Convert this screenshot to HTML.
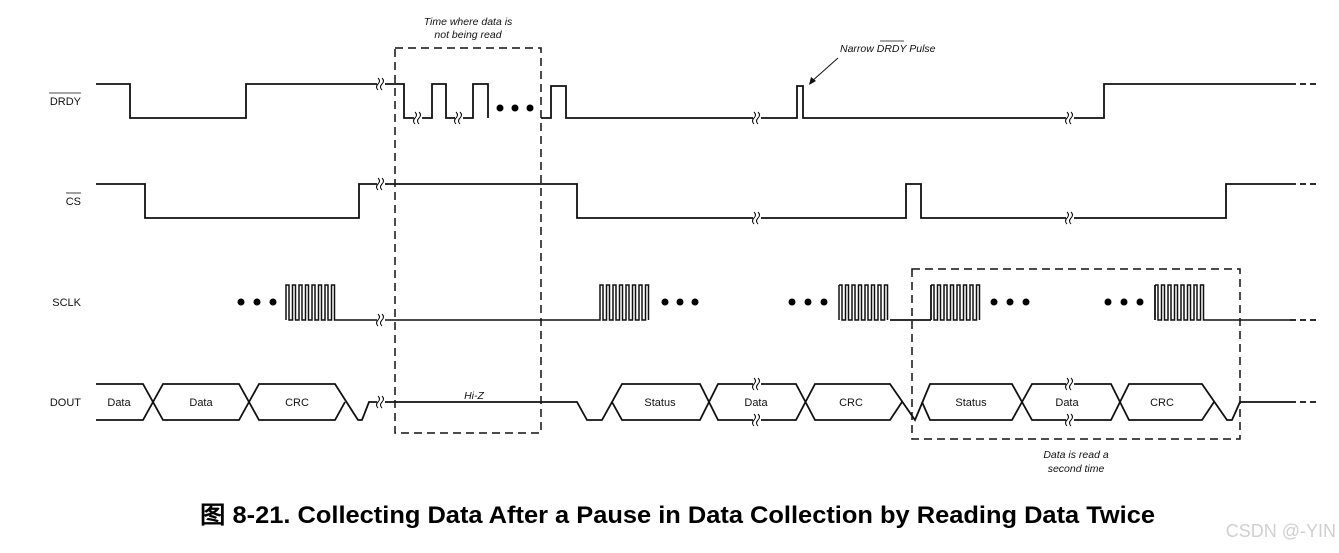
<!DOCTYPE html>
<html><head><meta charset="utf-8"><style>
html,body{margin:0;padding:0;background:#fff;}
svg{display:block;}
text{font-family:"Liberation Sans",sans-serif;}
</style></head><body>
<svg width="1339" height="553" viewBox="0 0 1339 553" xmlns="http://www.w3.org/2000/svg">
<defs>
<g id="brk"><rect x="-4" y="-5" width="8" height="10" fill="#fff"/><path d="M-3 -6 q3 3 0 6 q-3 3 0 6 M1 -6 q3 3 0 6 q-3 3 0 6" fill="none" stroke="#000" stroke-width="1"/></g>
</defs>
<g fill="none" stroke="#111" stroke-width="1.8">
<path d="M96 84 H130 V118 H246 V84 H404 V118 H432 V84 H446 V118 H473 V84 H488 V118"/>
<path d="M541 118 H551 V86 H566 V118 H797 V86 H803 V118 H1104 V84 H1290"/>
<path d="M1290 84 H1317" stroke-dasharray="6,4"/>
<path d="M96 184 H145 V218 H359 V184 H577 V218 H906 V184 H921 V218 H1226 V184 H1290"/>
<path d="M1290 184 H1317" stroke-dasharray="6,4"/>
<path d="M286 320 v-35h3v35h3.5v-35h3v35h3.5v-35h3v35h3.5v-35h3v35h3.5v-35h3v35h3.5v-35h3v35h3.5v-35h3v35h3.5v-35h3v35 H600 v-35h3v35h3.5v-35h3v35h3.5v-35h3v35h3.5v-35h3v35h3.5v-35h3v35h3.5v-35h3v35h3.5v-35h3v35h3.5v-35h3v35" stroke-width="1.5"/>
<path d="M839 285 v35 M839 285 h3v35h3.5v-35h3v35h3.5v-35h3v35h3.5v-35h3v35h3.5v-35h3v35h3.5v-35h3v35h3.5v-35h3v35h3.5v-35h3v35" stroke-width="1.5"/>
<path d="M931 285 h3v35h3.5v-35h3v35h3.5v-35h3v35h3.5v-35h3v35h3.5v-35h3v35h3.5v-35h3v35h3.5v-35h3v35h3.5v-35h3v35" stroke-width="1.5"/>
<path d="M1155 285 h3v35h3.5v-35h3v35h3.5v-35h3v35h3.5v-35h3v35h3.5v-35h3v35h3.5v-35h3v35h3.5v-35h3v35h3.5v-35h3v35 H1290" stroke-width="1.5"/>
<path d="M890 320 H931 M931 320 V285 M1155 320 V285"/>
<path d="M1290 320 H1317" stroke-dasharray="6,4"/>
<path d="M96 384 H143 L163 420 H239 L259 384 H335 L358 420 H362 L369 402 H577 L587 420 H602 L622 384 H700 L718 420 H796 L815 384 H890 L915 420 L930 384 H1012 L1032 420 H1111 L1129 384 H1202 L1227 420 H1232 L1240 402 H1290"/>
<path d="M96 420 H143 L163 384 H239 L259 420 H335 L345 402"/>
<path d="M612 402 L622 420 H700 L718 384 H796 L815 420 H890 L902 402"/>
<path d="M922 402 L930 420 H1012 L1032 384 H1111 L1129 420 H1202 L1214 402"/>
<path d="M1290 402 H1317" stroke-dasharray="6,4"/>
<path d="M395 48 H541 V433 H395 Z" stroke-width="1.5" stroke-dasharray="8,5"/>
<path d="M912 269 H1240 V439 H912 Z" stroke-width="1.5" stroke-dasharray="8,5"/>
<path d="M838 58 L811 82" stroke-width="1"/>
</g>
<path d="M809 85 L811 77 L816 81 Z" fill="#111"/>
<g fill="#000">
<circle cx="500" cy="108" r="3.5"/><circle cx="515" cy="108" r="3.5"/><circle cx="530" cy="108" r="3.5"/>
<circle cx="241" cy="302" r="3.5"/><circle cx="257" cy="302" r="3.5"/><circle cx="273" cy="302" r="3.5"/>
<circle cx="665" cy="302" r="3.5"/><circle cx="680" cy="302" r="3.5"/><circle cx="695" cy="302" r="3.5"/>
<circle cx="792" cy="302" r="3.5"/><circle cx="808" cy="302" r="3.5"/><circle cx="824" cy="302" r="3.5"/>
<circle cx="994" cy="302" r="3.5"/><circle cx="1010" cy="302" r="3.5"/><circle cx="1026" cy="302" r="3.5"/>
<circle cx="1108" cy="302" r="3.5"/><circle cx="1124" cy="302" r="3.5"/><circle cx="1140" cy="302" r="3.5"/>
</g>
<use href="#brk" x="381" y="84"/><use href="#brk" x="381" y="184"/><use href="#brk" x="381" y="320"/><use href="#brk" x="381" y="402"/>
<use href="#brk" x="418" y="118"/><use href="#brk" x="459" y="118"/>
<use href="#brk" x="757" y="118"/><use href="#brk" x="757" y="218"/><use href="#brk" x="757" y="384"/><use href="#brk" x="757" y="420"/>
<use href="#brk" x="1070" y="118"/><use href="#brk" x="1070" y="218"/><use href="#brk" x="1070" y="384"/><use href="#brk" x="1070" y="420"/>
<g font-size="11" fill="#111">
<text x="81" y="105" text-anchor="end">DRDY</text>
<line x1="49" y1="93" x2="81" y2="93" stroke="#111" stroke-width="0.8"/>
<text x="81" y="205" text-anchor="end">CS</text>
<line x1="66" y1="193" x2="81" y2="193" stroke="#111" stroke-width="0.8"/>
<text x="81" y="306" text-anchor="end">SCLK</text>
<text x="81" y="406" text-anchor="end">DOUT</text>
<g text-anchor="middle">
<text x="119" y="406">Data</text><text x="201" y="406">Data</text><text x="297" y="406">CRC</text>
<text x="660" y="406">Status</text><text x="756" y="406">Data</text><text x="851" y="406">CRC</text>
<text x="971" y="406">Status</text><text x="1067" y="406">Data</text><text x="1162" y="406">CRC</text>
</g>
<g font-style="italic" font-size="10.5" text-anchor="middle">
<text x="468" y="25">Time where data is</text>
<text x="468" y="38">not being read</text>
<text x="474" y="399">Hi-Z</text>
<text x="1076" y="458">Data is read a</text>
<text x="1076" y="472">second time</text>
</g>
<text x="840" y="52" font-style="italic" font-size="10.5">Narrow DRDY Pulse</text>
<line x1="880" y1="41" x2="904" y2="41" stroke="#111" stroke-width="0.8"/>
</g>
<text x="200" y="523" textLength="955" lengthAdjust="spacingAndGlyphs" font-size="24" font-weight="bold" fill="#000" font-family="'Liberation Sans','Noto Sans CJK SC',sans-serif">图 8-21. Collecting Data After a Pause in Data Collection by Reading Data Twice</text>
<text x="1336" y="537" text-anchor="end" font-size="18" fill="#d0d0d0">CSDN @-YIN</text>
</svg>
</body></html>
